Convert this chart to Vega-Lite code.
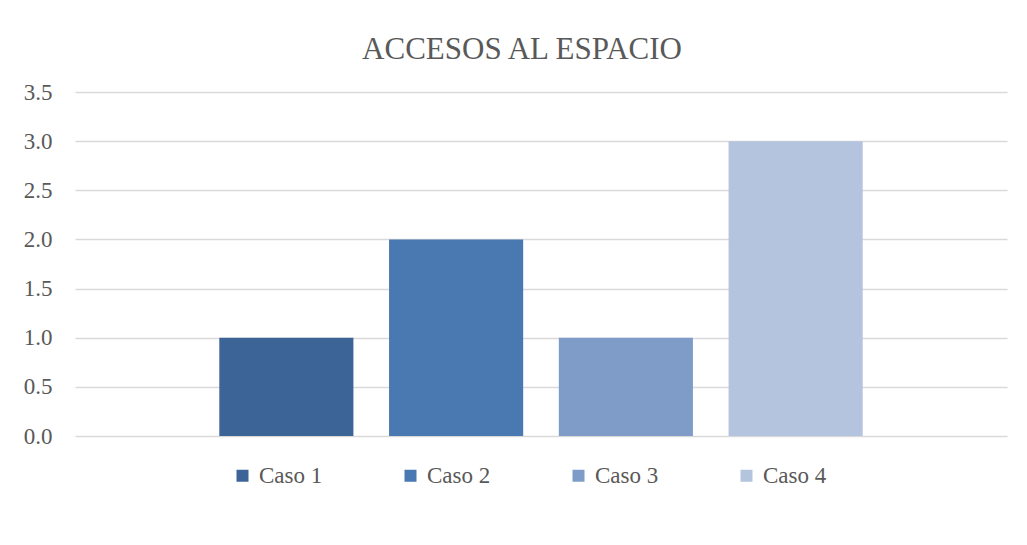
{
  "$schema": "https://vega.github.io/schema/vega-lite/v6.json",
  "autosize": {"type": "none"},
  "padding": {"left": 75, "top": 92, "right": 20, "bottom": 109},
  "width": 932,
  "height": 344,
  "background": "white",
  "title": {
    "text": "ACCESOS AL ESPACIO",
    "font": "Liberation Serif",
    "fontSize": 31,
    "fontWeight": "normal",
    "color": "#595959",
    "anchor": "middle",
    "dx": -19,
    "offset": 15
  },
  "data": {
    "values": [
      {"serie": "Caso 1", "valor": 1},
      {"serie": "Caso 2", "valor": 2},
      {"serie": "Caso 3", "valor": 1},
      {"serie": "Caso 4", "valor": 3}
    ]
  },
  "mark": {"type": "bar"},
  "encoding": {
    "x": {
      "field": "serie",
      "type": "nominal",
      "scale": {"paddingInner": 0.21, "paddingOuter": 0.85},
      "axis": null
    },
    "y": {
      "field": "valor",
      "type": "quantitative",
      "scale": {"domain": [0, 3.5]},
      "axis": {
        "title": null,
        "values": [0, 0.5, 1, 1.5, 2, 2.5, 3, 3.5],
        "format": ".1f",
        "domain": false,
        "ticks": false,
        "labelPadding": 23,
        "labelFont": "Liberation Serif",
        "labelFontSize": 23,
        "labelColor": "#595959",
        "gridColor": "#d9d9d9",
        "gridWidth": 1.5
      }
    },
    "color": {
      "field": "serie",
      "type": "nominal",
      "scale": {
        "domain": ["Caso 1", "Caso 2", "Caso 3", "Caso 4"],
        "range": ["#3C6496", "#4A78B0", "#7F9CC8", "#B4C3DE"]
      },
      "legend": {
        "title": null,
        "orient": "none",
        "direction": "horizontal",
        "columns": 4,
        "legendX": 156,
        "legendY": 372,
        "padding": 0,
        "symbolType": "square",
        "symbolSize": 144,
        "symbolStrokeWidth": 0,
        "symbolOpacity": 1,
        "labelFont": "Liberation Serif",
        "labelFontSize": 23,
        "labelColor": "#595959",
        "labelOffset": 5,
        "columnPadding": 76
      }
    }
  },
  "config": {
    "font": "Liberation Serif",
    "axis": {"labelFont": "Liberation Serif"},
    "legend": {"labelFont": "Liberation Serif"},
    "view": {"stroke": null}
  }
}
